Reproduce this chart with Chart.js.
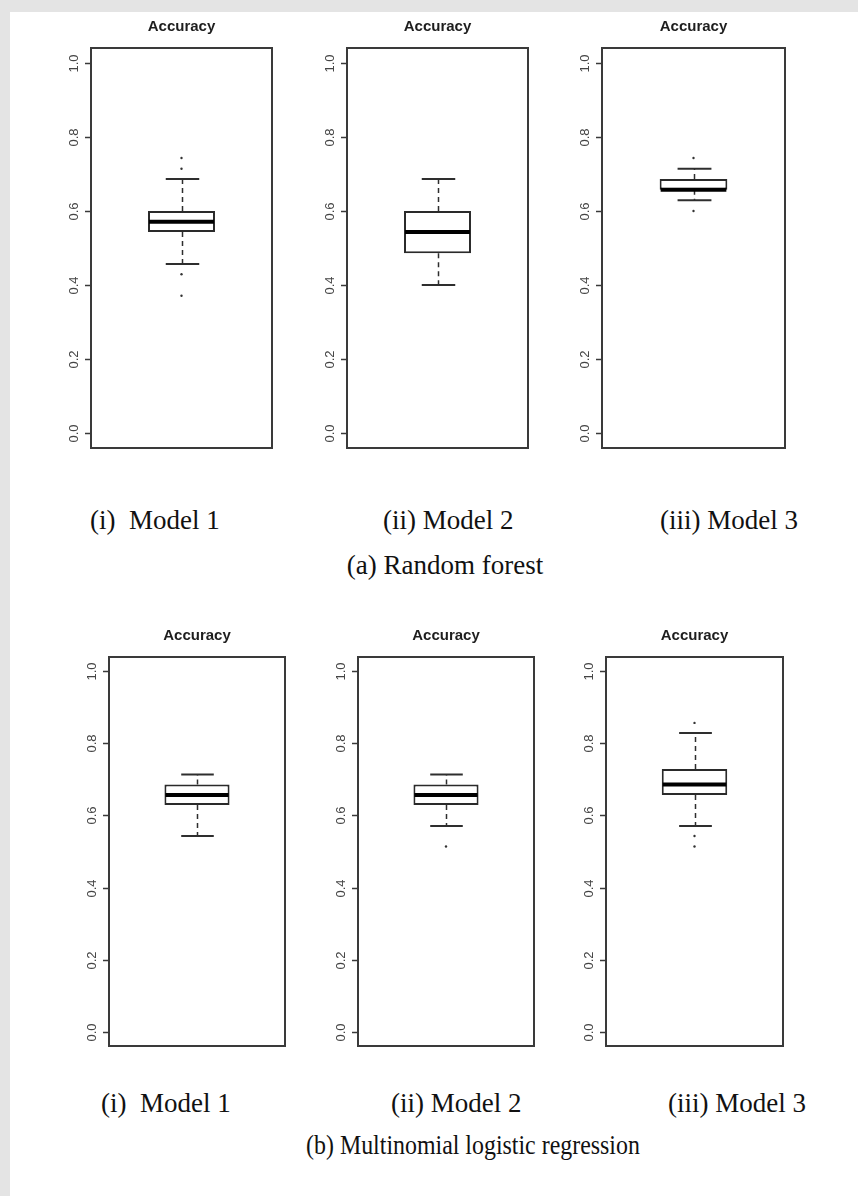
<!DOCTYPE html>
<html>
<head>
<meta charset="utf-8">
<script src="https://cdn.jsdelivr.net/npm/chart.js@4.4.1/dist/chart.umd.min.js"></script>
<style>
html, body { margin: 0; padding: 0; }
body { width: 858px; height: 1196px; background: #e4e4e4; position: relative; overflow: hidden; }
#sheet { position: absolute; left: 10px; top: 12px; width: 848px; height: 1184px; background: #fff; }
canvas.panel { position: absolute; }
.cap { position: absolute; font-family: "Liberation Serif", "Times New Roman", serif; color: #111; white-space: pre; }
</style>
</head>
<body>
<div id="sheet"></div>
<script>
// ---- data ----
const panelTitle = 'Accuracy';
const modelLabels = ['(i)  Model 1', '(ii) Model 2', '(iii) Model 3'];
const groupCaptions = ['(a) Random forest', '(b) Multinomial logistic regression'];
const yTicks = [0.0, 0.2, 0.4, 0.6, 0.8, 1.0];

// five-number summaries: [lower whisker, Q1, median, Q3, upper whisker]
const rfModel1 = [0.457, 0.543, 0.571, 0.600, 0.686];
const rfModel2 = [0.400, 0.486, 0.543, 0.600, 0.686];
const rfModel3 = [0.629, 0.657, 0.657, 0.686, 0.714];
const rfOutliers1 = [0.743, 0.714, 0.429, 0.371];
const rfOutliers2 = [];
const rfOutliers3 = [0.743, 0.600];

const mlrModel1 = [0.543, 0.629, 0.657, 0.686, 0.714];
const mlrModel2 = [0.571, 0.629, 0.657, 0.686, 0.714];
const mlrModel3 = [0.571, 0.657, 0.686, 0.729, 0.829];
const mlrOutliers1 = [];
const mlrOutliers2 = [0.514];
const mlrOutliers3 = [0.857, 0.543, 0.514];

// ---- layout ----
const frames = [
  { l: 91,  t: 48,  r: 272, b: 448 },
  { l: 347, t: 48,  r: 528, b: 448 },
  { l: 602, t: 48,  r: 785, b: 448 },
  { l: 109, t: 657, r: 285, b: 1046 },
  { l: 358, t: 657, r: 534, b: 1046 },
  { l: 606, t: 657, r: 783, b: 1046 }
];
const panels = [
  [rfModel1, rfOutliers1], [rfModel2, rfOutliers2], [rfModel3, rfOutliers3],
  [mlrModel1, mlrOutliers1], [mlrModel2, mlrOutliers2], [mlrModel3, mlrOutliers3]
];
const PAD = { left: 55, top: 45, right: 10, bottom: 10 };
const sansNarrow = '"Liberation Sans Narrow", "Arial Narrow", "Liberation Sans", Arial, sans-serif';

function seg(ctx, x1, y1, x2, y2) {
  ctx.beginPath();
  ctx.moveTo(x1, y1);
  ctx.lineTo(x2, y2);
  ctx.stroke();
}

// draws whiskers, median, R style frame, y ticks and title
const rBoxPlugin = {
  id: 'rbox',
  afterDatasetsDraw(chart, args, opts) {
    const ctx = chart.ctx;
    const y = chart.scales.y;
    const bar = chart.getDatasetMeta(0).data[0];
    const s = opts.stats;
    const cx = Math.round(bar.x) + 0.5;
    const half = bar.width / 2;
    const cap = half / 2;
    ctx.save();
    ctx.strokeStyle = '#2e2e2e';
    ctx.lineWidth = 1.5;
    ctx.setLineDash([5, 4]);
    seg(ctx, cx, y.getPixelForValue(s[3]), cx, y.getPixelForValue(s[4]));
    seg(ctx, cx, y.getPixelForValue(s[1]), cx, y.getPixelForValue(s[0]));
    ctx.setLineDash([]);
    ctx.lineWidth = 2;
    seg(ctx, cx - cap, y.getPixelForValue(s[4]), cx + cap, y.getPixelForValue(s[4]));
    seg(ctx, cx - cap, y.getPixelForValue(s[0]), cx + cap, y.getPixelForValue(s[0]));
    ctx.strokeStyle = '#000';
    ctx.lineWidth = 4;
    seg(ctx, bar.x - half + 1, y.getPixelForValue(s[2]), bar.x + half - 1, y.getPixelForValue(s[2]));
    ctx.restore();
  },
  afterDraw(chart, args, opts) {
    const ctx = chart.ctx;
    const y = chart.scales.y;
    const ca = chart.chartArea;
    ctx.save();
    ctx.strokeStyle = '#3a3a3a';
    ctx.lineWidth = 2;
    ctx.strokeRect(ca.left, ca.top, ca.right - ca.left, ca.bottom - ca.top);
    ctx.fillStyle = '#444';
    ctx.font = '13px ' + sansNarrow;
    ctx.textAlign = 'center';
    ctx.textBaseline = 'middle';
    yTicks.forEach(v => {
      const py = Math.round(y.getPixelForValue(v)) + 0.5;
      ctx.lineWidth = 1.5;
      seg(ctx, ca.left - 6, py, ca.left, py);
      ctx.save();
      ctx.translate(ca.left - 17, py);
      ctx.rotate(-Math.PI / 2);
      ctx.fillText(v.toFixed(1), 0, 0);
      ctx.restore();
    });
    ctx.fillStyle = '#1e1e1e';
    ctx.font = 'bold 15px ' + sansNarrow;
    ctx.fillText(opts.title, (ca.left + ca.right) / 2, ca.top - 21);
    ctx.restore();
  }
};

frames.forEach((f, i) => {
  const stats = panels[i][0];
  const outliers = panels[i][1];
  const canvas = document.createElement('canvas');
  canvas.className = 'panel';
  const w = (f.r - f.l) + PAD.left + PAD.right;
  const h = (f.b - f.t) + PAD.top + PAD.bottom;
  canvas.width = w;
  canvas.height = h;
  canvas.style.left = (f.l - PAD.left) + 'px';
  canvas.style.top = (f.t - PAD.top) + 'px';
  canvas.style.width = w + 'px';
  canvas.style.height = h + 'px';
  document.body.appendChild(canvas);

  new Chart(canvas, {
    data: {
      labels: [panelTitle],
      datasets: [
        {
          type: 'bar',
          data: [[stats[1], stats[3]]],
          backgroundColor: '#ffffff',
          borderColor: '#2a2a2a',
          borderWidth: 2,
          borderSkipped: false,
          barPercentage: 0.37,
          categoryPercentage: 1
        },
        {
          type: 'line',
          data: outliers.map(v => ({ x: panelTitle, y: v })),
          showLine: false,
          pointRadius: 1.2,
          pointBackgroundColor: '#333',
          pointBorderWidth: 0
        }
      ]
    },
    options: {
      responsive: false,
      animation: false,
      devicePixelRatio: 1,
      layout: { padding: PAD },
      scales: {
        x: { display: false, offset: true },
        y: { display: false, min: -0.04, max: 1.04 }
      },
      plugins: {
        legend: { display: false },
        tooltip: { enabled: false },
        rbox: { stats: stats, title: panelTitle }
      }
    },
    plugins: [rBoxPlugin]
  });
});

// captions below each row
const capLefts = [[90, 383, 660], [101, 391, 668]];
const capMidY = [522, 1105];
// [centre x, centre y, horizontal squeeze]
const groupMid = [[445, 567, 1], [473, 1147, 0.885]];
function addCap(text, x, midY, squeeze, centered) {
  const d = document.createElement('div');
  d.className = 'cap';
  d.textContent = text;
  d.style.fontSize = '27px';
  d.style.lineHeight = '27px';
  d.style.left = x + 'px';
  d.style.top = Math.round(midY - 15) + 'px';
  if (centered) {
    d.style.transformOrigin = '50% 50%';
    d.style.transform = 'translateX(-50%) scaleX(' + squeeze + ')';
  }
  document.body.appendChild(d);
}
for (let row = 0; row < 2; row++) {
  for (let k = 0; k < 3; k++) {
    addCap(modelLabels[k], capLefts[row][k], capMidY[row], 1, false);
  }
  addCap(groupCaptions[row], groupMid[row][0], groupMid[row][1], groupMid[row][2], true);
}
</script>
</body>
</html>
